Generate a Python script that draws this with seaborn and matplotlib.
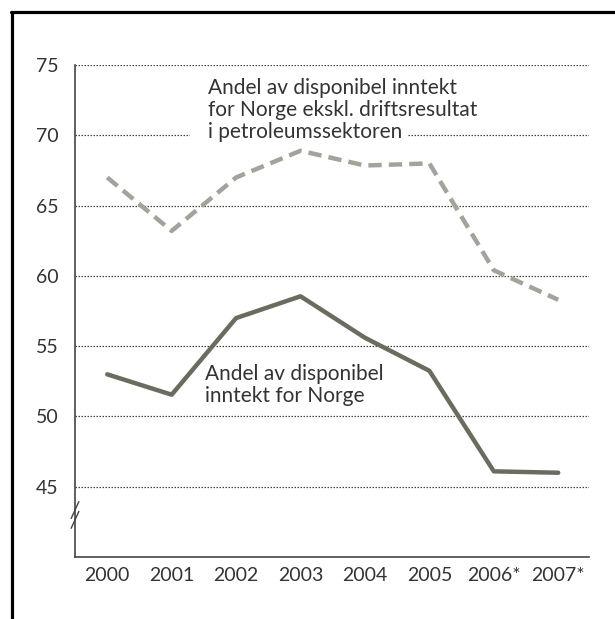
"""
Andel av disponibel inntekt for Norge
"""

import matplotlib

matplotlib.use("Agg")
import matplotlib.pyplot as plt
import pandas as pd
import seaborn as sns
from matplotlib.lines import Line2D
from matplotlib.patches import Rectangle

years = ["2000", "2001", "2002", "2003", "2004", "2005", "2006*", "2007*"]
eksl_petroleum = [67.0, 63.2, 67.0, 68.9, 67.85, 68.0, 60.4, 58.3]
norge = [53.0, 51.55, 57.0, 58.55, 55.6, 53.25, 46.1, 46.0]
yticks = [45, 50, 55, 60, 65, 70, 75]

label_eksl = "Andel av disponibel inntekt\nfor Norge ekskl. driftsresultat\ni petroleumssektoren"
label_norge = "Andel av disponibel\ninntekt for Norge"

df = pd.DataFrame(
    {
        "year": years * 2,
        "pos": list(range(len(years))) * 2,
        "value": eksl_petroleum + norge,
        "serie": ["eksl"] * len(years) + ["norge"] * len(years),
    }
)

sns.set_style("white")
plt.rcParams["font.family"] = ["Lato", "DejaVu Sans"]
text_color = "#333333"

fig = plt.figure(figsize=(6.15, 6.19), dpi=100)
ax = fig.add_axes([0.122, 0.100, 0.836, 0.795])

sns.lineplot(
    data=df[df.serie == "eksl"], x="pos", y="value", ax=ax,
    color="#a3a39b", lw=3.2, linestyle=(0, (3, 1.6)), legend=False,
)
sns.lineplot(
    data=df[df.serie == "norge"], x="pos", y="value", ax=ax,
    color="#6b6b60", lw=3.2, legend=False,
)

ax.set_xlim(-0.5, 7.48)
ax.set_ylim(40, 75)
ax.set_yticks(yticks)
ax.set_yticklabels([str(v) for v in yticks])
ax.set_xticks(range(len(years)))
ax.set_xticklabels(years)
ax.set_xlabel("")
ax.set_ylabel("")

for v in yticks:
    ax.axhline(v, color="#444444", lw=0.9, linestyle=(0, (1.2, 1.2)), zorder=0)

for s in ["top", "right"]:
    ax.spines[s].set_visible(False)
for s in ["left", "bottom"]:
    ax.spines[s].set_color("#444444")
    ax.spines[s].set_linewidth(1.2)

ax.tick_params(axis="y", length=0, labelsize=14, labelcolor=text_color, pad=12)
ax.tick_params(axis="x", direction="in", length=12, width=1, color="#444444",
               labelsize=14, labelcolor=text_color, pad=7)

# break marker on y axis
for dy in (-0.35, 0.35):
    ax.plot([-0.56, -0.44], [43.0 + dy - 0.6, 43.0 + dy + 0.6], color="#444444",
            lw=1, clip_on=False, transform=ax.transData)

# white gap in the 70 gridline behind the label
ax.add_patch(Rectangle((1.29, 69.7), 3.38, 0.6, facecolor="white", edgecolor="none", zorder=0.5))

ax.text(1.565, 71.8, label_eksl, fontsize=15, color=text_color, va="center",
        linespacing=1.15)
ax.text(1.52, 52.25, label_norge, fontsize=15, color=text_color, va="center",
        linespacing=1.15)

# outer frame
fig.add_artist(Line2D([12 / 615, 12 / 615], [0, 1 - 12 / 619], color="black",
                      lw=2.3, transform=fig.transFigure))
fig.add_artist(Line2D([11 / 615, 1], [1 - 12 / 619, 1 - 12 / 619], color="black",
                      lw=2.3, transform=fig.transFigure))

fig.savefig("out.png", dpi=100)
